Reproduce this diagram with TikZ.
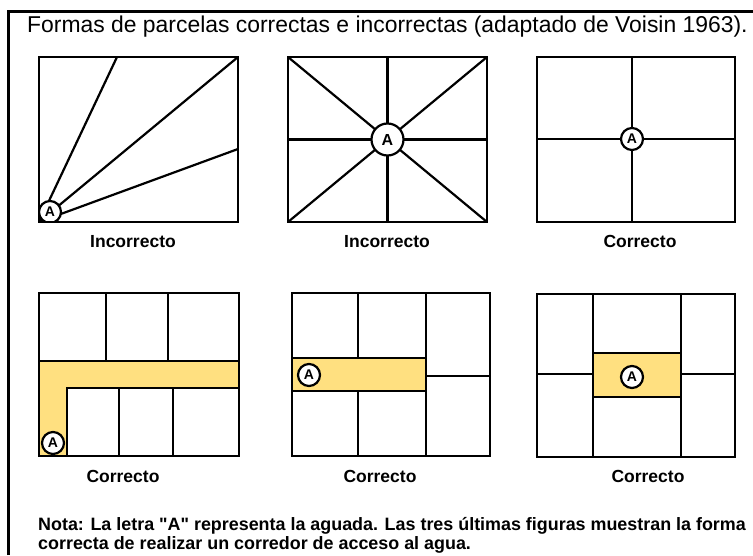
\documentclass[tikz,border=0pt]{standalone}
\usepackage{fontspec}
\setmainfont{Liberation Sans}
\definecolor{corredor}{RGB}{255,224,128}

\begin{document}
\begin{tikzpicture}[x=1pt, y=-1pt,
    linea/.style={black, line width=2.6pt},
    radio/.style={black, line width=2.2pt},
    aguada/.style={circle, draw=black, line width=2.2pt, fill=white, inner sep=0pt,
        minimum size=22pt, font=\bfseries\fontsize{14}{14}\selectfont},
    rotulo/.style={inner sep=0pt, anchor=base, font=\bfseries\fontsize{17.5}{17.5}\selectfont}]
    \useasboundingbox (0,0) rectangle (753,555);

    % Marco y titulo
    \draw[black, line width=3pt] (8.5,555) -- (8.5,11) -- (753,11);
    \node[anchor=base west, inner sep=0pt, font=\fontsize{22.9}{22.9}\selectfont] (titulo) at (27,32)
        {Formas de parcelas correctas e incorrectas (adaptado de Voisin 1963).};

    % Parcela 1: radios desde la esquina
    \draw[radio] (39,222) -- (117,57);
    \draw[radio] (39,222) -- (238,57);
    \draw[radio] (39,222) -- (238,149);
    \begin{scope}
        \clip (39,57) rectangle (238,222);
        \node[aguada] (a1) at (50,212) {A};
    \end{scope}
    \draw[linea] (39,57) rectangle (238,222);
    \node[rotulo] (r1) at (133,247.5) {Incorrecto};

    % Parcela 2: radios desde el centro
    \draw[linea] (288,57) rectangle (487,222);
    \draw[radio] (288,57) -- (487,222);
    \draw[radio] (487,57) -- (288,222);
    \draw[linea] (387.5,57) -- (387.5,222);
    \draw[linea] (288,139.5) -- (487,139.5);
    \node[aguada, minimum size=32pt, font=\bfseries\fontsize{16}{16}\selectfont] (a2) at (387.5,139.5) {A};
    \node[rotulo] (r2) at (387,247.5) {Incorrecto};

    % Parcela 3: cuatro cuadrantes
    \draw[linea] (537,57) rectangle (735,222);
    \draw[linea] (632,57) -- (632,222);
    \draw[linea] (537,139) -- (735,139);
    \node[aguada] (a3) at (632,139) {A};
    \node[rotulo] (r3) at (640,247.5) {Correcto};

    % Parcela 4: corredor en L
    \fill[corredor] (39,361) -- (239,361) -- (239,388) -- (67,388) -- (67,456) -- (39,456) -- cycle;
    \draw[linea] (106,293) -- (106,361);
    \draw[linea] (168,293) -- (168,361);
    \draw[linea] (39,361) -- (239,361);
    \draw[linea] (67,456) -- (67,388) -- (239,388);
    \draw[linea] (119,388) -- (119,456);
    \draw[linea] (173,388) -- (173,456);
    \begin{scope}
        \clip (39,293) rectangle (239,456);
        \node[aguada] (a4) at (53,443) {A};
    \end{scope}
    \draw[linea] (39,293) rectangle (239,456);
    \node[rotulo] (r4) at (123,482) {Correcto};

    % Parcela 5: corredor lateral
    \fill[corredor] (292,358) rectangle (426,391);
    \draw[linea] (292,293) rectangle (490,456);
    \draw[linea] (358,293) -- (358,358);
    \draw[linea] (358,391) -- (358,456);
    \draw[linea] (426,293) -- (426,456);
    \draw[linea] (292,358) -- (426,358);
    \draw[linea] (292,391) -- (426,391);
    \draw[linea] (426,376) -- (490,376);
    \node[aguada] (a5) at (309,375) {A};
    \node[rotulo] (r5) at (380,482) {Correcto};

    % Parcela 6: corredor central
    \fill[corredor] (593,353) rectangle (681,397);
    \draw[linea] (537,294) rectangle (735,457);
    \draw[linea] (593,294) -- (593,457);
    \draw[linea] (681,294) -- (681,457);
    \draw[linea] (537,374) -- (593,374);
    \draw[linea] (681,374) -- (735,374);
    \draw[linea] (593,353) -- (681,353);
    \draw[linea] (593,397) -- (681,397);
    \node[aguada] (a6) at (632,377) {A};
    \node[rotulo] (r6) at (648,482) {Correcto};

    % Nota
    \node[rotulo, anchor=base west, font=\bfseries\fontsize{17.9}{17.9}\selectfont] (nota1) at (38,530)
        {Nota: La letra \textquotedbl A\textquotedbl{} representa la aguada. Las tres últimas figuras muestran la forma};
    \node[rotulo, anchor=base west, font=\bfseries\fontsize{17.9}{17.9}\selectfont] (nota2) at (38,549)
        {correcta de realizar un corredor de acceso al agua.};
\end{tikzpicture}
\end{document}
